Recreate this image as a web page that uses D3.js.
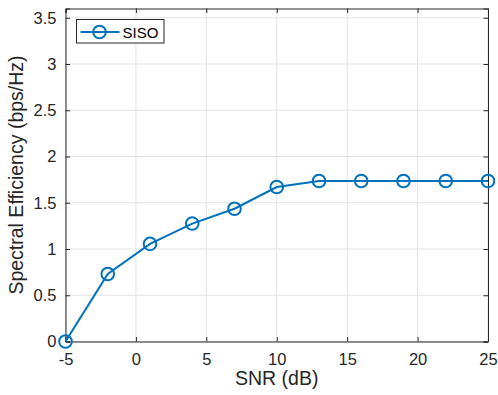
<!DOCTYPE html>
<html>
<head>
<meta charset="utf-8">
<script src="https://cdn.jsdelivr.net/npm/d3@7"></script>
<style>
  body { margin: 0; background: #fff; }
  svg { display: block; font-family: "Liberation Sans", Arial, Helvetica, sans-serif; }
</style>
</head>
<body>
<svg id="chart" width="498" height="395"></svg>
<script>
// SNR sweep and resulting spectral efficiency
const snrDb = [-5, -2, 1, 4, 7, 10, 13, 16, 19, 22, 25];
const sisoSE = [0, 0.73, 1.055, 1.275, 1.435, 1.67, 1.735, 1.735, 1.735, 1.735, 1.735];
const xTicks = [-5, 0, 5, 10, 15, 20, 25];
const yTicks = [0, 0.5, 1, 1.5, 2, 2.5, 3, 3.5];
const seriesName = "SISO";

const svg = d3.select("#chart");
const m = { left: 65.5, right: 488, top: 8.5, bottom: 341.5 };
const axisColor = "#262626";
const lineColor = "#0072BD";
const fontFamily = "'Liberation Sans', Arial, Helvetica, sans-serif";

const x = d3.scaleLinear().domain([-5, 25]).range([m.left, m.right]);
const y = d3.scaleLinear().domain([0, 3.6]).range([m.bottom, m.top]);

// grid
const grid = svg.append("g").attr("stroke", "#e3e3e3").attr("stroke-width", 1);
xTicks.forEach(t => grid.append("line")
  .attr("x1", x(t)).attr("x2", x(t)).attr("y1", m.top).attr("y2", m.bottom));
yTicks.forEach(t => grid.append("line")
  .attr("x1", m.left).attr("x2", m.right).attr("y1", y(t)).attr("y2", y(t)));

// axes with inward ticks on all four sides
const tickLen = 4.5;
const fmt = d => String(d);
const axBottom = svg.append("g").attr("transform", `translate(0,${m.bottom})`)
  .call(d3.axisBottom(x).tickValues(xTicks).tickSize(-tickLen).tickPadding(12).tickFormat(fmt));
const axTop = svg.append("g").attr("transform", `translate(0,${m.top})`)
  .call(d3.axisTop(x).tickValues(xTicks).tickSize(-tickLen).tickFormat(""));
const axLeft = svg.append("g").attr("transform", `translate(${m.left},0)`)
  .call(d3.axisLeft(y).tickValues(yTicks).tickSize(-tickLen).tickPadding(9).tickFormat(fmt));
const axRight = svg.append("g").attr("transform", `translate(${m.right},0)`)
  .call(d3.axisRight(y).tickValues(yTicks).tickSize(-tickLen).tickFormat(""));

[axBottom, axTop, axLeft, axRight].forEach(g => {
  g.attr("font-size", null).attr("font-family", null);
  g.select(".domain").attr("stroke", axisColor).attr("stroke-width", 1);
  g.selectAll(".tick line").attr("stroke", axisColor);
  g.selectAll(".tick text").attr("fill", axisColor)
    .attr("font-size", 16.5).attr("font-family", fontFamily);
});

// series
const line = d3.line().x((d, i) => x(snrDb[i])).y(d => y(d));
svg.append("path").datum(sisoSE)
  .attr("fill", "none").attr("stroke", lineColor).attr("stroke-width", 2)
  .attr("d", line);
svg.append("g").selectAll("circle").data(sisoSE).join("circle")
  .attr("cx", (d, i) => x(snrDb[i])).attr("cy", d => y(d)).attr("r", 6.3)
  .attr("fill", "none").attr("stroke", lineColor).attr("stroke-width", 2);

// axis labels
svg.append("text").attr("x", (m.left + m.right) / 2).attr("y", 385)
  .attr("text-anchor", "middle").attr("fill", axisColor)
  .attr("font-size", 19.5).attr("font-family", fontFamily)
  .text("SNR (dB)");
svg.append("text")
  .attr("transform", `translate(23,${(m.top + m.bottom) / 2}) rotate(-90)`)
  .attr("text-anchor", "middle").attr("fill", axisColor)
  .attr("font-size", 19.5).attr("font-family", fontFamily)
  .text("Spectral Efficiency (bps/Hz)");

// legend
const lg = svg.append("g").attr("transform", "translate(76.5,19.5)");
lg.append("rect").attr("width", 87.5).attr("height", 23.5)
  .attr("fill", "#fff").attr("stroke", axisColor).attr("stroke-width", 1);
lg.append("line").attr("x1", 4).attr("x2", 43).attr("y1", 12.5).attr("y2", 12.5)
  .attr("stroke", lineColor).attr("stroke-width", 2);
lg.append("circle").attr("cx", 23).attr("cy", 12.5).attr("r", 6.3)
  .attr("fill", "none").attr("stroke", lineColor).attr("stroke-width", 2);
lg.append("text").attr("x", 46).attr("y", 18).attr("fill", "#000")
  .attr("font-size", 15).attr("font-family", fontFamily).text(seriesName);
</script>
</body>
</html>
